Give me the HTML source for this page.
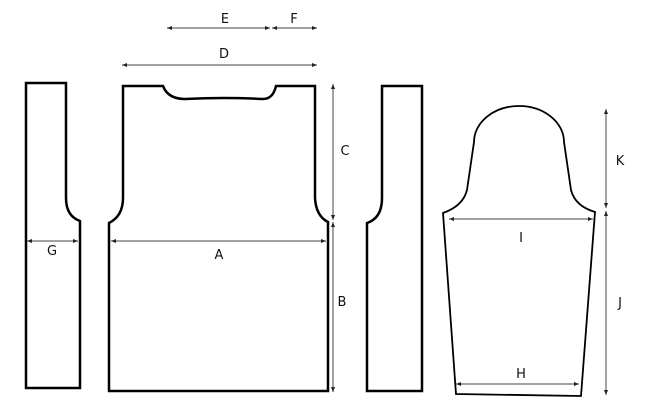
<!DOCTYPE html>
<html><head><meta charset="utf-8"><style>
html,body{margin:0;padding:0;background:#fff;}
svg{display:block;}
text{font-family:"DejaVu Sans","Liberation Sans",sans-serif;font-size:13px;fill:#111;text-anchor:middle;}
</style></head><body>
<svg width="650" height="410" viewBox="0 0 650 410" xmlns="http://www.w3.org/2000/svg">
<defs>
<marker id="a" viewBox="0 0 10 10" refX="10" refY="5" markerWidth="6" markerHeight="5" orient="auto-start-reverse" markerUnits="userSpaceOnUse"><path d="M0,1 L10,5 L0,9 z" fill="#222"/></marker>
</defs>
<g fill="none" stroke="#000" stroke-width="2.5" stroke-linejoin="miter">
<path d="M26,83 L66,83 L66,198 Q66,216 80,221 L80,388 L26,388 Z"/>
<path d="M123,86 L163,86 Q168,99 185,99 Q225,97 263,99 Q273,99 276,86 L315,86 L315,198 Q316,216 328,222 L328,391 L109,391 L109,223 Q123,216 123,198 Z"/>
<path d="M382,86 L422,86 L422,391 L367,391 L367,223 Q382,218 382,198 Z"/>
</g>
<path fill="none" stroke="#000" stroke-width="1.8" d="M443,213 Q463,206 467,190 L474,142 A45,36 0 0 1 564,142 L571,190 Q575,206 595,212 L581,396 L456,394 Z"/>
<g stroke="#444" stroke-width="1" marker-start="url(#a)" marker-end="url(#a)">
<line x1="167" y1="28" x2="270" y2="28"/>
<line x1="272" y1="28" x2="317" y2="28"/>
<line x1="122" y1="65" x2="317" y2="65"/>
<line x1="333" y1="84" x2="333" y2="220"/>
<line x1="333" y1="222" x2="333" y2="392"/>
<line x1="111" y1="241" x2="326" y2="241"/>
<line x1="27" y1="241" x2="78" y2="241"/>
<line x1="449" y1="219" x2="593" y2="219"/>
<line x1="456" y1="384" x2="579" y2="384"/>
<line x1="606" y1="109" x2="606" y2="208"/>
<line x1="606" y1="211" x2="606" y2="395"/>
</g>
<text x="225" y="23">E</text>
<text x="294" y="23">F</text>
<text x="224" y="58">D</text>
<text x="345" y="155">C</text>
<text x="342" y="306">B</text>
<text x="219" y="259">A</text>
<text x="52" y="255">G</text>
<text x="521" y="242">I</text>
<text x="521" y="378">H</text>
<text x="620" y="165">K</text>
<text x="620" y="307">J</text>
</svg>
</body></html>
